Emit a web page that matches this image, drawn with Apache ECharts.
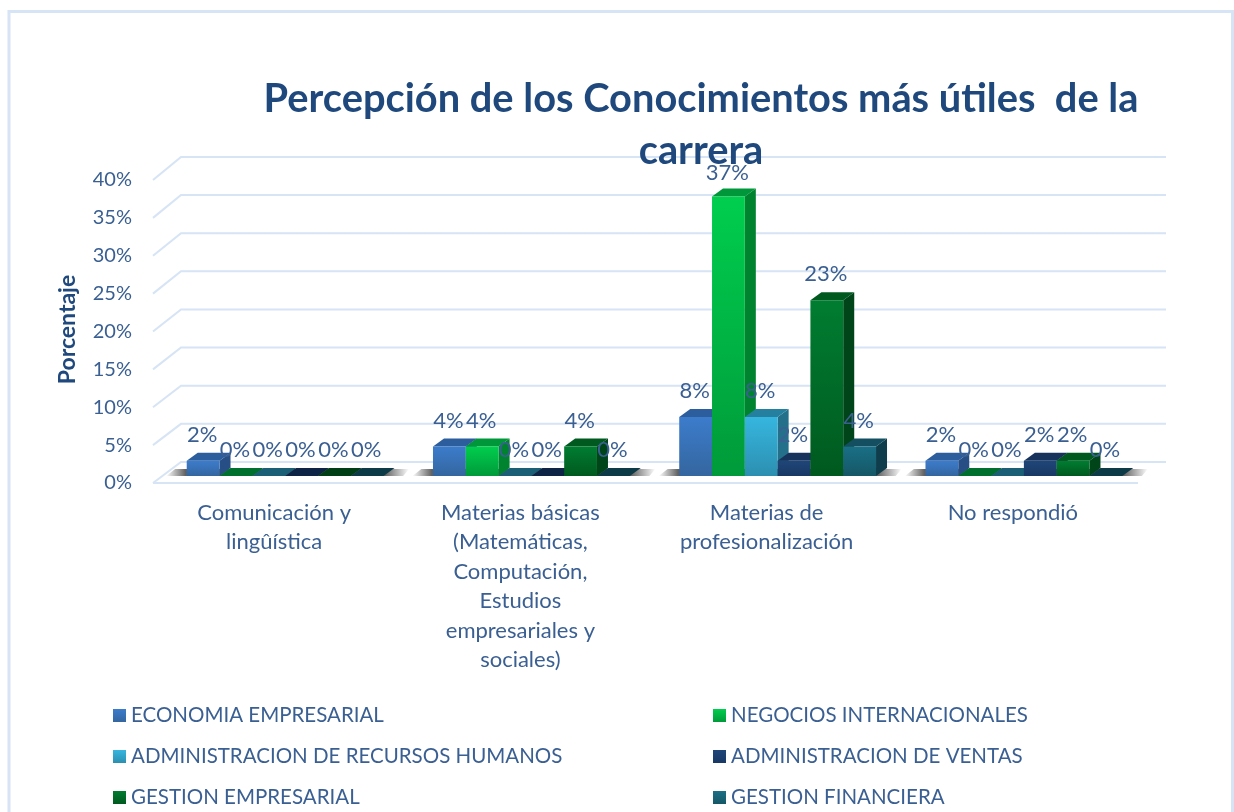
<!DOCTYPE html>
<html>
<head>
<meta charset="utf-8">
<script src="https://cdn.jsdelivr.net/npm/echarts@6/dist/echarts.min.js"></script>
<style>
html, body { margin: 0; padding: 0; background: #fff; }
#chart { width: 1234px; height: 812px; }
</style>
</head>
<body>
<div id="chart"></div>
<script>
const categorias = [
    'Comunicación y\nlingûística',
    'Materias básicas\n(Matemáticas,\nComputación,\nEstudios\nempresariales y\nsociales)',
    'Materias de\nprofesionalización',
    'No respondió'
];
const carreras = [
    'ECONOMIA EMPRESARIAL',
    'NEGOCIOS INTERNACIONALES',
    'ADMINISTRACION DE RECURSOS HUMANOS',
    'ADMINISTRACION DE VENTAS',
    'GESTION EMPRESARIAL',
    'GESTION FINANCIERA'
];
const economia = [2, 3.9, 7.8, 2];
const negocios = [0, 3.9, 36.9, 0];
const recursosHumanos = [0, 0, 7.8, 0];
const ventas = [0, 0, 2, 2];
const gestion = [0, 3.9, 23.2, 2];
const financiera = [0, 0, 3.9, 0];
const valores = [economia, negocios, recursosHumanos, ventas, gestion, financiera];
const ticks = [0, 5, 10, 15, 20, 25, 30, 35, 40];

// frente arriba, frente abajo, tapa, lado, tapa cuando vale cero
const colores = [
    ['#3C7CCC', '#34669F', '#2C5D9C', '#274F85', '#2C5D9C'],
    ['#00CE4E', '#009A3A', '#00973A', '#00832E', '#00702F'],
    ['#36B6DF', '#2C8FB0', '#2580A0', '#24708A', '#1A5F75'],
    ['#1F4678', '#183865', '#17335C', '#132B4D', '#0E2447'],
    ['#007D31', '#00591F', '#005A20', '#00441A', '#003F15'],
    ['#1A6F86', '#155766', '#134F60', '#0F3D4C', '#0C3A47']
];
const colorTexto = '#3A5F92';
const colorTitulo = '#1F497D';
const colorRejilla = '#D6E4F5';
const fuente = 'Lato';

// profundidad del 3D en pixeles
const paredDx = 28, paredDy = -21;
const barraX = 9, barraY = -7;
const barraW = 32.8, tapaDx = 11, tapaDy = -8;

const degradado = (a, b) => new echarts.graphic.LinearGradient(0, 0, 0, 1, [
    { offset: 0, color: a },
    { offset: 1, color: b }
]);

const renderPared = (params, api) => {
    const grid = params.coordSys;
    const y0 = api.coord([0, 0])[1];
    const y = api.coord([0, api.value(0)])[1];
    const yb = y0 + paredDy - (y0 - y) * 1.007;
    const points = [[grid.x, y], [grid.x + paredDx, yb], [grid.x + grid.width + paredDx, yb]];
    const children = [{
        type: 'polyline',
        shape: { points },
        style: { stroke: colorRejilla, lineWidth: 2, fill: 'none' }
    }];
    if (api.value(0) === 0) {
        children.push({
            type: 'line',
            shape: { x1: grid.x, y1: y, x2: grid.x + grid.width, y2: y },
            style: { stroke: colorRejilla, lineWidth: 2 }
        });
    }
    return { type: 'group', children };
};

const renderSombra = (params, api) => {
    const p = api.coord([api.value(0), 0]);
    const left = p[0] - 110, right = p[0] + 133;
    const y = p[1] + barraY;
    return {
        type: 'polygon',
        shape: { points: [[left, y], [left + 9, y - 7], [right, y - 7], [right - 6, y]] },
        style: {
            fill: new echarts.graphic.LinearGradient(0, 0, 1, 0, [
                { offset: 0, color: 'rgba(70,70,70,0)' },
                { offset: 0.08, color: 'rgba(70,70,70,0.85)' },
                { offset: 0.9, color: 'rgba(70,70,70,0.85)' },
                { offset: 1, color: 'rgba(70,70,70,0)' }
            ])
        }
    };
};

const renderBarra = (s) => (params, api) => {
    const base = api.coord([api.value(0), 0]);
    const top = api.coord([api.value(0), api.value(1)]);
    const c = colores[s];
    const x = base[0] + barraX + (s - 3) * barraW;
    const x2 = x + barraW;
    const yb = base[1] + barraY;
    const yt = top[1] + barraY;
    const cero = api.value(1) === 0;
    const children = [
        {
            type: 'polygon',
            shape: { points: [[x2, yt], [x2 + tapaDx, yt + tapaDy], [x2 + tapaDx, yb + tapaDy], [x2, yb]] },
            style: { fill: c[3] }
        },
        {
            type: 'polygon',
            shape: { points: [[x, yt], [x + tapaDx, yt + tapaDy], [x2 + tapaDx, yt + tapaDy], [x2, yt]] },
            style: { fill: cero ? c[4] : c[2] }
        }
    ];
    if (!cero) {
        children.push({
            type: 'rect',
            shape: { x, y: yt, width: barraW, height: yb - yt },
            style: { fill: degradado(c[0], c[1]) }
        });
    }
    children.push({
        type: 'text',
        z2: 100,
        style: {
            text: Math.round(api.value(1)) + '%',
            x: x + barraW / 2 - 1,
            y: Math.max(yt - 26, 173),
            align: 'center',
            verticalAlign: 'middle',
            fill: colorTexto,
            font: '22px ' + fuente
        }
    });
    return { type: 'group', children };
};

const seriesBarras = carreras.map((nombre, s) => ({
    name: nombre,
    type: 'custom',
    renderItem: renderBarra(s),
    encode: { x: 0, y: 1 },
    itemStyle: { color: degradado(colores[s][0], colores[s][1]) },
    data: categorias.map((c, i) => [i, valores[s][i]])
}));

const leyenda = (data, left) => ({
    orient: 'vertical',
    left,
    top: 705,
    padding: 0,
    itemWidth: 13,
    itemHeight: 13,
    itemGap: 20,
    icon: 'rect',
    data,
    textStyle: { color: colorTexto, fontFamily: fuente, fontSize: 20.5 }
});

const option = {
    animation: false,
    backgroundColor: '#fff',
    title: {
        text: 'Percepción de los Conocimientos más útiles  de la\ncarrera',
        left: 696,
        top: 68,
        textAlign: 'center',
        textStyle: { color: colorTitulo, fontFamily: fuente, fontSize: 39.8, fontWeight: 'bold', lineHeight: 52 }
    },
    graphic: [{
        type: 'rect',
        shape: { x: 9, y: 11.5, width: 1223.5, height: 820 },
        style: { fill: 'none', stroke: colorRejilla, lineWidth: 3 },
        silent: true
    }],
    legend: [
        leyenda([carreras[0], carreras[2], carreras[4]], 113),
        leyenda([carreras[1], carreras[3], carreras[5]], 713)
    ],
    grid: { left: 153, top: 180, width: 985, height: 303 },
    xAxis: {
        type: 'category',
        data: categorias,
        axisLine: { show: false },
        axisTick: { show: false },
        axisLabel: {
            interval: 0,
            margin: 15,
            color: colorTexto,
            fontFamily: fuente,
            fontSize: 22,
            lineHeight: 29.5,
            verticalAlign: 'top',
            padding: [0, 4, 0, 0]
        }
    },
    yAxis: {
        type: 'value',
        min: 0,
        max: 40,
        interval: 5,
        name: 'Porcentaje',
        nameLocation: 'middle',
        nameGap: 74,
        nameTextStyle: { color: colorTitulo, fontFamily: fuente, fontSize: 23, fontWeight: 'bold', padding: [0, 0, 0, 4] },
        axisLine: { show: false },
        axisTick: { show: false },
        splitLine: { show: false },
        axisLabel: {
            margin: 21,
            color: colorTexto,
            fontFamily: fuente,
            fontSize: 20,
            padding: [0, 0, 6, 0],
            formatter: '{value}%'
        }
    },
    series: [
        {
            name: 'pared',
            type: 'custom',
            renderItem: renderPared,
            encode: { y: 0 },
            silent: true,
            data: ticks.map((t) => [t])
        },
        {
            name: 'sombra',
            type: 'custom',
            renderItem: renderSombra,
            encode: { x: 0 },
            silent: true,
            data: categorias.map((c, i) => [i])
        },
        ...seriesBarras
    ]
};

const myChart = echarts.init(document.getElementById('chart'));
myChart.setOption(option);
</script>
</body>
</html>
